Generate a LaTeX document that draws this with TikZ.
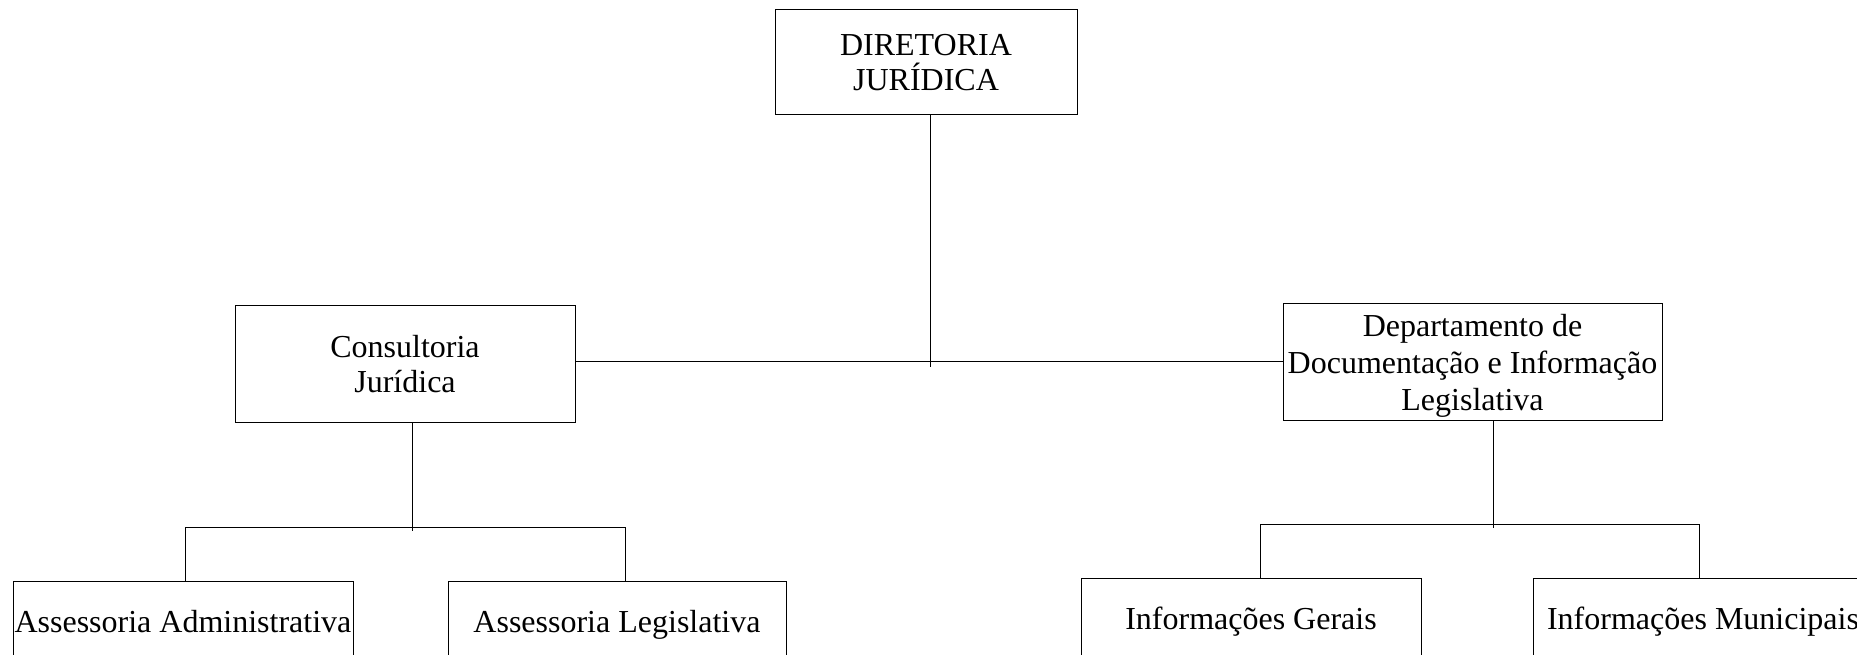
\documentclass[tikz,border=0pt]{standalone}
\usepackage{fontspec}
\setmainfont{Liberation Serif}
\newcommand\mlines[3]{\raisebox{#1}[0pt][0pt]{\vtop{\baselineskip=#2\relax\lineskiplimit=-100pt\halign{\hfil##\hfil\cr#3\crcr}}}}
\begin{document}
\begin{tikzpicture}[x=1pt,y=-1pt,
  box/.style={draw=black,line width=1pt,rectangle,inner sep=0pt,
    font=\fontsize{32}{36}\selectfont},
  lowbox/.style={box,minimum width=340pt,minimum height=80pt,text height=22pt,text depth=0pt},
  conn/.style={draw=black,line width=1pt}]
\useasboundingbox (0,0) rectangle (1857,654);
\node[box,minimum width=302pt,minimum height=105pt] (dir) at (926,61.5) {\mlines{6.5pt}{35pt}{DIRETORIA\cr JURÍDICA}};
\node[box,minimum width=340pt,minimum height=117pt] (cons) at (405,363.5) {\mlines{6.5pt}{35pt}{Consultoria\cr Jurídica}};
\node[box,minimum width=379pt,minimum height=117pt] (dep) at (1472.5,361.5) {\mlines{25.5pt}{37pt}{Departamento de\cr Documentação e Informação\cr Legislativa}};
\node[lowbox] (aa) at (183,621) {Assessoria Administrativa};
\node[lowbox,minimum width=338pt] (al) at (617,621) {Assessoria Legislativa};
\node[lowbox] (ig) at (1251,618) {Informações Gerais};
\node[lowbox] (im) at (1703,618) {Informações Municipais};
% junctions
\coordinate (j1) at (930,367);
\coordinate (h1) at (930,361);
\coordinate (j2) at (412,531);
\coordinate (b2l) at (185,527);
\coordinate (b2r) at (625,527);
\coordinate (j3) at (1493,528);
\coordinate (b3l) at (1260,524);
\coordinate (b3r) at (1699,524);
% top level
\draw[conn] (dir.south -| j1) -- (j1);
\draw[conn] (cons.east |- h1) -- (dep.west |- h1);
% left branch
\draw[conn] (cons.south -| j2) -- (j2);
\draw[conn] (aa.north -| b2l) -- (b2l) -- (b2r) -- (al.north -| b2r);
% right branch
\draw[conn] (dep.south -| j3) -- (j3);
\draw[conn] (ig.north -| b3l) -- (b3l) -- (b3r) -- (im.north -| b3r);
\end{tikzpicture}
\end{document}
